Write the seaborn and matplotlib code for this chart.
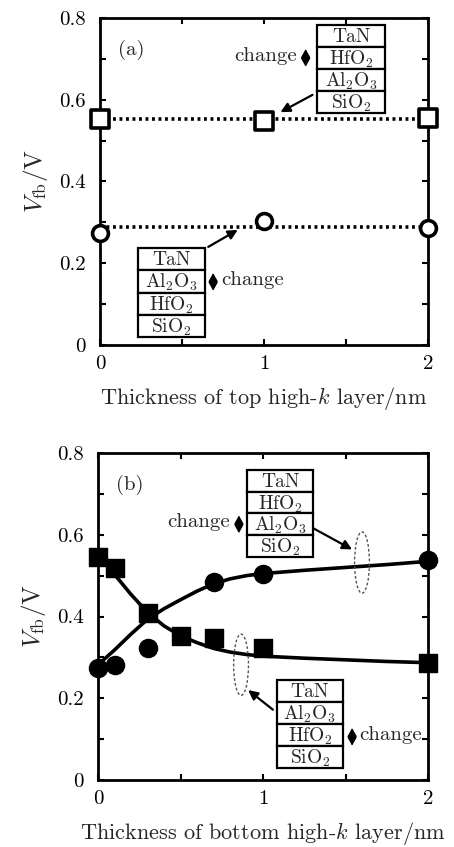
import numpy as np
import pandas as pd
import matplotlib
matplotlib.use("Agg")
import matplotlib.pyplot as plt
from matplotlib.patches import Rectangle, Ellipse
from matplotlib.ticker import MultipleLocator
import seaborn as sns

# ---------------- data ----------------
# panel (a): thickness of top high-k layer
a_x = [0, 1, 2]
a_square = [0.553, 0.548, 0.556]      # TaN/HfO2(change)/Al2O3/SiO2
a_circle = [0.274, 0.304, 0.287]      # TaN/Al2O3(change)/HfO2/SiO2
a_line_x = [0, 2]
a_square_line = [0.554, 0.554]
a_circle_line = [0.289, 0.289]

# panel (b): thickness of bottom high-k layer
b_x = [0, 0.1, 0.3, 0.5, 0.7, 1.0, 2.0]
b_square = [0.546, 0.518, 0.408, 0.352, 0.347, 0.323, 0.286]
b_circle_x = [0, 0.1, 0.3, 0.7, 1.0, 2.0]
b_circle = [0.274, 0.282, 0.324, 0.484, 0.505, 0.539]

# fitted guide curves
fit_x = [0, 0.1, 0.2, 0.3, 0.4, 0.5, 0.6, 0.7, 0.8, 0.9, 1.0, 1.25, 1.5, 1.75, 2.0]
fit_circle = [0.282, 0.318, 0.357, 0.393, 0.419, 0.441, 0.462, 0.480, 0.492, 0.500,
              0.505, 0.513, 0.520, 0.527, 0.535]
fit_square = [0.550, 0.503, 0.454, 0.410, 0.377, 0.353, 0.336, 0.322, 0.313, 0.307,
              0.303, 0.298, 0.294, 0.290, 0.287]

stack_a_top = ["TaN", r"HfO$_2$", r"Al$_2$O$_3$", r"SiO$_2$"]
stack_a_bot = ["TaN", r"Al$_2$O$_3$", r"HfO$_2$", r"SiO$_2$"]
stack_b_top = ["TaN", r"HfO$_2$", r"Al$_2$O$_3$", r"SiO$_2$"]
stack_b_bot = ["TaN", r"Al$_2$O$_3$", r"HfO$_2$", r"SiO$_2$"]

xlabel_a = r"Thickness of top high-$k$ layer/nm"
xlabel_b = r"Thickness of bottom high-$k$ layer/nm"
ylabel = r"$V_{\rm fb}$/V"

# ---------------- style ----------------
sns.set_theme(style="ticks")
plt.rcParams["font.family"] = "serif"
plt.rcParams["font.serif"] = ["cmr10", "DejaVu Serif"]
plt.rcParams["mathtext.fontset"] = "cm"
plt.rcParams["axes.formatter.use_mathtext"] = True

FS = 15       # tick labels / panel label / "change"
FS_BOX = 14   # stack text
FS_LAB = 16   # axis labels

fig = plt.figure(figsize=(4.54, 8.47), dpi=100)
W, H = 454, 847
def axrect(l, r, t, b):
    return [l / W, 1 - b / H, (r - l) / W, (b - t) / H]

ax_a = fig.add_axes(axrect(100, 428, 18, 345))
ax_b = fig.add_axes(axrect(98, 428, 453, 780))


def style_axes(ax, xlabel):
    ax.set_xlim(0, 2)
    ax.set_ylim(0, 0.8)
    ax.xaxis.set_minor_locator(MultipleLocator(0.5))
    ax.yaxis.set_minor_locator(MultipleLocator(0.1))
    ax.set_xticks([0, 1, 2])
    ax.set_xticklabels(["0", "1", "2"])
    ax.set_yticks([0, 0.2, 0.4, 0.6, 0.8])
    ax.set_yticklabels(["0", "0.2", "0.4", "0.6", "0.8"])
    ax.tick_params(which="both", direction="in", top=True, right=True,
                   width=1.5, labelsize=FS, colors="black")
    ax.tick_params(which="both", length=4)
    ax.tick_params(axis="x", pad=7)
    ax.tick_params(axis="y", pad=10)
    for s in ax.spines.values():
        s.set_linewidth(2.0)
        s.set_color("black")
        s.set_visible(True)
    ax.set_xlabel(xlabel, fontsize=FS_LAB, labelpad=9)
    ax.set_ylabel(ylabel, fontsize=FS_LAB + 2, labelpad=7)


def draw_stack(ax, labels, x0, x1, ytop, ybot):
    n = len(labels)
    h = (ytop - ybot) / n
    for i, lab in enumerate(labels):
        yb = ytop - (i + 1) * h
        ax.add_patch(Rectangle((x0, yb), x1 - x0, h, transform=ax.transAxes,
                               facecolor="white", edgecolor="black", lw=1.6,
                               zorder=6, clip_on=False))
        ax.text((x0 + x1) / 2, yb + h / 2 - 0.004, lab, transform=ax.transAxes,
                ha="center", va="center", fontsize=FS_BOX, zorder=7)
    return h


def updown(ax, x, y, half=0.027):
    ax.annotate("", xy=(x, y + half), xytext=(x, y - half),
                xycoords="axes fraction", textcoords="axes fraction",
                arrowprops=dict(arrowstyle="<|-|>,head_length=0.5,head_width=0.28",
                                color="black", lw=1.0,
                                mutation_scale=10, shrinkA=0, shrinkB=0),
                zorder=7)


def pointer(ax, start, end):
    ax.annotate("", xy=end, xytext=start,
                xycoords="axes fraction", textcoords="axes fraction",
                arrowprops=dict(arrowstyle="-|>", color="black", lw=1.6,
                                mutation_scale=14, shrinkA=0, shrinkB=0),
                zorder=7)


# ---------------- panel (a) ----------------
df_a = pd.DataFrame({"x": a_x, "sq": a_square, "ci": a_circle})
df_al = pd.DataFrame({"x": a_line_x, "sq": a_square_line, "ci": a_circle_line})
sns.lineplot(data=df_al, x="x", y="sq", ax=ax_a, color="black", lw=2.6,
             linestyle=(0, (0.8, 1.0)), zorder=3)
sns.lineplot(data=df_al, x="x", y="ci", ax=ax_a, color="black", lw=2.6,
             linestyle=(0, (0.8, 1.0)), zorder=3)
sns.scatterplot(data=df_a, x="x", y="sq", ax=ax_a, marker="s", s=160,
                facecolor="white", edgecolor="black", linewidth=2.6,
                zorder=5, clip_on=False)
sns.scatterplot(data=df_a, x="x", y="ci", ax=ax_a, marker="o", s=130,
                facecolor="white", edgecolor="black", linewidth=2.6,
                zorder=5, clip_on=False)
style_axes(ax_a, xlabel_a)
ax_a.text(0.055, 0.902, "(a)", transform=ax_a.transAxes, fontsize=FS,
          ha="left", va="center")

# top stack (a)
draw_stack(ax_a, stack_a_top, 0.662, 0.869, 0.979, 0.709)
updown(ax_a, 0.627, 0.878)
ax_a.text(0.600, 0.884, "change", transform=ax_a.transAxes, fontsize=FS,
          ha="right", va="center")
pointer(ax_a, (0.648, 0.765), (0.550, 0.712))

# bottom stack (a)
draw_stack(ax_a, stack_a_bot, 0.116, 0.320, 0.297, 0.024)
updown(ax_a, 0.345, 0.193)
ax_a.text(0.370, 0.199, "change", transform=ax_a.transAxes, fontsize=FS,
          ha="left", va="center")
pointer(ax_a, (0.330, 0.300), (0.420, 0.352))

# ---------------- panel (b) ----------------
df_fit = pd.DataFrame({"x": fit_x, "ci": fit_circle, "sq": fit_square})
df_bs = pd.DataFrame({"x": b_x, "y": b_square})
df_bc = pd.DataFrame({"x": b_circle_x, "y": b_circle})
sns.lineplot(data=df_fit, x="x", y="ci", ax=ax_b, color="black", lw=2.6, zorder=3)
sns.lineplot(data=df_fit, x="x", y="sq", ax=ax_b, color="black", lw=2.6, zorder=3)
sns.scatterplot(data=df_bs, x="x", y="y", ax=ax_b, marker="s", s=150,
                color="black", edgecolor="black", linewidth=1, zorder=5,
                clip_on=False)
sns.scatterplot(data=df_bc, x="x", y="y", ax=ax_b, marker="o", s=170,
                color="black", edgecolor="black", linewidth=1, zorder=5,
                clip_on=False)
style_axes(ax_b, xlabel_b)
ax_b.text(0.055, 0.902, "(b)", transform=ax_b.transAxes, fontsize=FS,
          ha="left", va="center")

# ellipses
ax_b.add_patch(Ellipse((1.60, 0.532), 0.09, 0.15, fill=False, edgecolor="#555555",
                       lw=1.0, linestyle=(0, (2, 1.5)), zorder=4))
ax_b.add_patch(Ellipse((0.867, 0.282), 0.09, 0.15, fill=False, edgecolor="#555555",
                       lw=1.0, linestyle=(0, (2, 1.5)), zorder=4))

# top stack (b)
draw_stack(ax_b, stack_b_top, 0.452, 0.652, 0.948, 0.682)
updown(ax_b, 0.427, 0.782)
ax_b.text(0.400, 0.788, "change", transform=ax_b.transAxes, fontsize=FS,
          ha="right", va="center")
pointer(ax_b, (0.652, 0.770), (0.770, 0.705))

# bottom stack (b)
draw_stack(ax_b, stack_b_bot, 0.542, 0.742, 0.306, 0.037)
updown(ax_b, 0.770, 0.132)
ax_b.text(0.793, 0.138, "change", transform=ax_b.transAxes, fontsize=FS,
          ha="left", va="center")
pointer(ax_b, (0.530, 0.215), (0.455, 0.275))

fig.savefig("out.png", dpi=100)
